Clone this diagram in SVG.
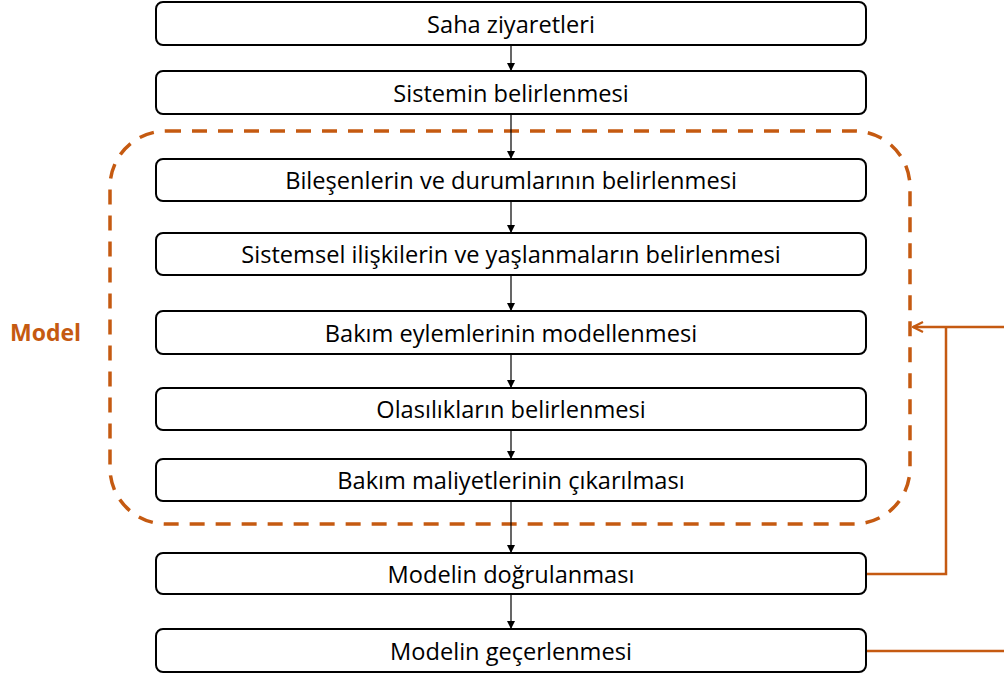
<svg xmlns="http://www.w3.org/2000/svg" width="1004" height="679" viewBox="0 0 1004 679">
  <defs>
    <style>
      .box { fill: #ffffff; stroke: #000000; stroke-width: 2; }
      .lbl { font-family: "Open Sans", "Noto Sans", "Liberation Sans", sans-serif; font-size: 23.6px; fill: #000000; text-anchor: middle; dominant-baseline: central; }
      .flow { stroke: #000000; stroke-width: 1.2; fill: none; marker-end: url(#arrowBlack); }
      .fb { stroke: #C55A11; stroke-width: 2.5; fill: none; }
      .group { fill: none; stroke: #C55A11; stroke-width: 3.5; stroke-dasharray: 15 11; }
      .tag { font-family: "Open Sans", "Noto Sans", "Liberation Sans", sans-serif; font-size: 23px; font-weight: bold; fill: #C55A11; }
    </style>
    <marker id="arrowBlack" viewBox="0 0 10 10" refX="10" refY="5" markerWidth="8" markerHeight="8" markerUnits="userSpaceOnUse" orient="auto">
      <path d="M0,0 L10,5 L0,10 Z" fill="#000000"/>
    </marker>
    <marker id="arrowOpen" viewBox="0 0 12 12" refX="11" refY="6" markerWidth="12" markerHeight="12" markerUnits="userSpaceOnUse" orient="auto">
      <path d="M1,1 L11,6 L1,11" fill="none" stroke="#C55A11" stroke-width="2.2"/>
    </marker>
  </defs>

  <!-- model grouping frame -->
  <g id="model-group">
    <rect class="group" x="110" y="131" width="800" height="393" rx="56" ry="56"/>
    <text class="tag" x="10" y="341">Model</text>
  </g>

  <!-- connectors -->
  <g id="connectors">
    <line class="flow" x1="511" y1="45" x2="511" y2="71"/>
    <line class="flow" x1="511" y1="114" x2="511" y2="159"/>
    <line class="flow" x1="511" y1="201" x2="511" y2="233"/>
    <line class="flow" x1="511" y1="275" x2="511" y2="311"/>
    <line class="flow" x1="511" y1="354" x2="511" y2="388"/>
    <line class="flow" x1="511" y1="430" x2="511" y2="459"/>
    <line class="flow" x1="511" y1="501" x2="511" y2="553"/>
    <line class="flow" x1="511" y1="594" x2="511" y2="629"/>
    <!-- feedback loops -->
    <polyline class="fb" points="866,574 946,574 946,327"/>
    <line class="fb" x1="1004" y1="327" x2="913" y2="327" marker-end="url(#arrowOpen)"/>
    <line class="fb" x1="866" y1="651" x2="1004" y2="651"/>
  </g>

  <g id="n1"><rect class="box" x="156" y="2" width="710" height="43" rx="7"/><text class="lbl" x="511" y="23.5">Saha ziyaretleri</text></g>
  <g id="n2"><rect class="box" x="156" y="71" width="710" height="43" rx="7"/><text class="lbl" x="511" y="92.5">Sistemin belirlenmesi</text></g>
  <g id="n3"><rect class="box" x="156" y="159" width="710" height="42" rx="7"/><text class="lbl" x="511" y="180">Bileşenlerin ve durumlarının belirlenmesi</text></g>
  <g id="n4"><rect class="box" x="156" y="233" width="710" height="42" rx="7"/><text class="lbl" x="511" y="254">Sistemsel ilişkilerin ve yaşlanmaların belirlenmesi</text></g>
  <g id="n5"><rect class="box" x="156" y="311" width="710" height="43" rx="7"/><text class="lbl" x="511" y="332.5">Bakım eylemlerinin modellenmesi</text></g>
  <g id="n6"><rect class="box" x="156" y="388" width="710" height="42" rx="7"/><text class="lbl" x="511" y="409">Olasılıkların belirlenmesi</text></g>
  <g id="n7"><rect class="box" x="156" y="459" width="710" height="42" rx="7"/><text class="lbl" x="511" y="480">Bakım maliyetlerinin çıkarılması</text></g>
  <g id="n8"><rect class="box" x="156" y="553" width="710" height="41" rx="7"/><text class="lbl" x="511" y="573.5">Modelin doğrulanması</text></g>
  <g id="n9"><rect class="box" x="156" y="629" width="710" height="43" rx="7"/><text class="lbl" x="511" y="650.5">Modelin geçerlenmesi</text></g>
</svg>
